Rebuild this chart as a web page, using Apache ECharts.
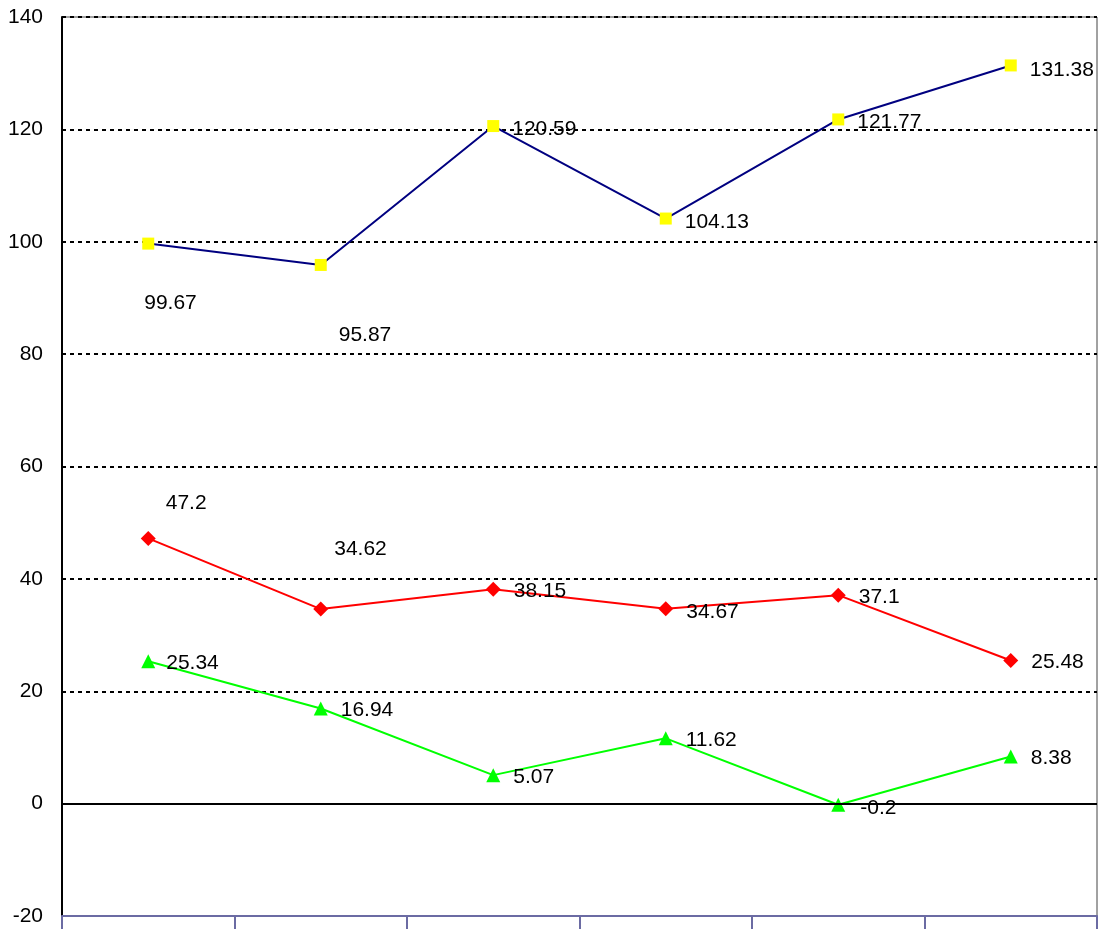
<!DOCTYPE html>
<html>
<head>
<meta charset="utf-8">
<script src="https://cdn.jsdelivr.net/npm/echarts@6/dist/echarts.min.js"></script>
<style>html,body{margin:0;padding:0;background:#fff;}#c{width:1098px;height:929px;}</style>
</head>
<body>
<div id="c"></div>
<script>
const categories = ['1', '2', '3', '4', '5', '6'];
const blueValues = [99.67, 95.87, 120.59, 104.13, 121.77, 131.38];
const redValues = [47.2, 34.62, 38.15, 34.67, 37.1, 25.48];
const greenValues = [25.34, 16.94, 5.07, 11.62, -0.2, 8.38];
const yTicks = { min: -20, max: 140, step: 20 };

// label offsets (relative to default 'right' placement)
const blueOffsets = [[-23, 60], [-1, 70], [0, 3], [0, 4], [0, 3], [0, 5]];
const redOffsets = [[-3, -35], [-7, -60], [0, 2], [0, 3], [0, 2], [0, 2]];
const greenOffsets = [[-2, 2], [0, 2], [0, 2], [0, 2], [2, 3], [0, 2]];

function mk(values, offsets) {
  return values.map((v, i) => ({ value: v, label: { offset: offsets[i] } }));
}
const labelBase = {
  show: true, position: 'right', distance: 13,
  color: '#000', fontSize: 21, fontFamily: 'Liberation Sans, Arial, sans-serif'
};

const chart = echarts.init(document.getElementById('c'));
chart.setOption({
  animation: false,
  grid: { left: 62, right: 1, top: 17, bottom: 13, show: true, borderColor: '#444', borderWidth: 1 },
  xAxis: {
    type: 'category', data: categories, boundaryGap: true,
    axisLine: { onZero: false, lineStyle: { color: '#6b6ba3', width: 2 } },
    axisTick: { show: true, length: 14, lineStyle: { color: '#6b6ba3', width: 2 } },
    axisLabel: { show: false },
    splitLine: { show: false }
  },
  yAxis: {
    type: 'value', min: yTicks.min, max: yTicks.max, interval: yTicks.step,
    axisLine: { show: true, lineStyle: { color: '#000', width: 2 } },
    axisTick: { show: false },
    axisLabel: { color: '#000', fontSize: 21, margin: 19, padding: [8, 0, 0, 0], fontFamily: 'Liberation Sans, Arial, sans-serif' },
    splitLine: { show: true, lineStyle: { color: '#000', width: 2, type: [4, 4] } }
  },
  series: [
    {
      type: 'line', data: mk(blueValues, blueOffsets),
      symbol: 'rect', symbolSize: 12,
      lineStyle: { color: '#000080', width: 2 },
      itemStyle: { color: '#ffff00' },
      label: labelBase,
      markLine: {
        silent: true, symbol: 'none', label: { show: false },
        lineStyle: { color: '#000', width: 2, type: 'solid' },
        data: [{ yAxis: 0 }]
      },
      z: 3
    },
    {
      type: 'line', data: mk(redValues, redOffsets),
      symbol: 'diamond', symbolSize: 15,
      lineStyle: { color: '#ff0000', width: 2 },
      itemStyle: { color: '#ff0000' },
      label: labelBase, z: 3
    },
    {
      type: 'line', data: mk(greenValues, greenOffsets),
      symbol: 'triangle', symbolSize: 14,
      lineStyle: { color: '#00ff00', width: 2 },
      itemStyle: { color: '#00ff00' },
      label: labelBase, z: 3
    }
  ]
});
</script>
</body>
</html>
